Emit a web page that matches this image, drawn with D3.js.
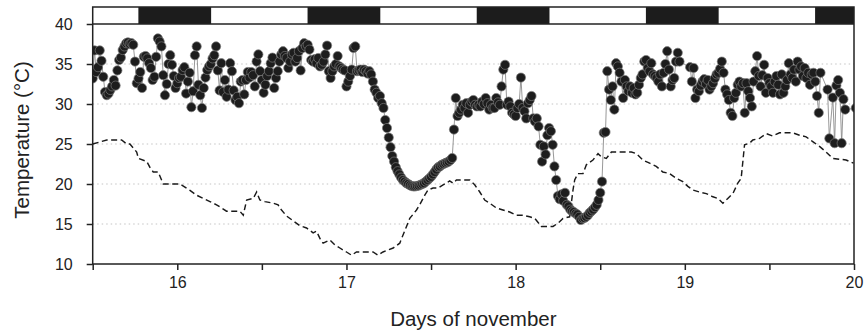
<!DOCTYPE html>
<html><head><meta charset="utf-8">
<script src="https://cdn.jsdelivr.net/npm/d3@7"></script>
<style>
html,body{margin:0;padding:0;background:#fff;}
svg{display:block;font-family:"Liberation Sans",Arial,Helvetica,sans-serif;}
</style></head><body>
<svg id="chart" width="865" height="335"></svg>
<script>
// ---- data ----
const sampleStartDay = 15.5;       // first body-temperature reading (day of November)
const sampleStepDays = 1 / 96;     // one reading every 15 minutes
const bodyTemps = [
  33.2,36.7,34.0,34.6,36.7,35.4,33.4,31.5,31.1,31.3,31.75,32.2,
  33.0,32.3,34.2,35.5,35.8,36.75,37.2,37.6,37.7,37.5,37.6,37.4,
  35.3,32.6,33.2,34.0,32.0,35.9,36.0,35.7,35.1,34.5,33.0,33.4,
  35.9,38.2,37.8,37.2,33.6,31.1,32.5,35.0,36.1,34.9,33.5,32.0,
  32.6,33.25,33.4,34.25,34.6,31.3,32.8,33.9,29.6,31.6,36.1,37.2,
  32.4,31.1,29.5,32.0,33.3,34.25,34.7,35.0,35.7,36.1,37.2,34.2,
  31.7,35.1,31.5,33.0,30.9,31.8,35.1,34.1,31.7,30.5,30.9,30.1,
  32.8,33.0,31.2,33.0,34.0,33.3,34.0,33.6,32.2,35.3,36.2,34.1,
  33.0,31.4,32.4,33.5,34.1,35.1,35.8,32.0,33.25,34.1,35.3,36.2,
  36.6,36.0,35.75,34.5,35.3,36.2,36.4,35.3,35.75,36.6,34.2,37.0,
  37.6,37.2,37.4,36.8,35.5,35.3,35.6,35.1,35.75,34.7,34.9,35.3,
  36.2,37.3,34.1,33.25,34.1,34.7,35.0,36.0,34.7,34.5,34.3,34.2,
  32.2,32.8,33.5,34.3,37.0,37.2,34.1,34.2,34.3,34.0,34.3,34.1,
  33.8,34.1,33.7,32.8,31.8,31.4,30.75,31.0,30.1,29.5,28.0,27.0,
  25.8,24.6,23.5,22.8,22.1,21.6,21.2,20.8,20.5,20.3,20.1,20.0,
  19.85,19.75,19.7,19.7,19.75,19.8,19.9,20.0,20.1,20.3,20.5,20.7,
  20.9,21.2,21.5,21.8,22.1,22.2,22.4,22.5,22.6,22.7,22.8,23.0,
  23.25,26.8,30.75,28.5,28.9,29.3,29.9,29.5,30.1,28.9,29.9,30.3,
  30.5,29.9,29.7,29.9,29.7,30.3,30.0,30.75,30.1,29.3,29.9,29.5,
  29.5,30.75,30.2,29.9,32.2,34.3,34.9,29.9,30.3,29.7,28.9,28.7,
  28.5,29.5,30.0,33.3,29.5,29.1,28.2,30.1,30.5,31.0,28.2,27.8,
  28.2,27.2,24.9,22.8,24.7,23.7,26.1,27.0,26.6,24.9,22.2,20.5,
  18.5,18.1,18.7,17.9,18.9,17.4,17.2,16.8,16.6,16.5,16.3,16.2,
  15.9,15.5,15.7,15.75,15.9,16.1,16.4,16.6,16.8,17.1,17.4,18.0,
  18.9,20.3,26.4,26.5,34.1,31.8,30.5,32.2,29.3,35.1,34.7,33.9,
  32.8,30.75,33.0,32.2,31.6,32.2,31.4,32.0,31.2,31.4,32.4,33.25,
  33.7,35.3,35.5,34.5,34.1,35.1,33.7,33.5,33.25,32.8,33.7,32.2,
  33.9,35.0,36.6,34.3,32.2,33.0,33.25,35.3,36.4,35.3,null,null,
  null,null,null,34.6,32.8,34.5,30.75,31.8,31.6,32.3,32.8,33.1,
  32.5,33.0,31.8,32.2,32.6,33.2,33.7,33.9,34.4,35.3,33.9,31.8,
  31.2,30.5,28.9,28.5,30.75,31.4,32.4,32.8,32.2,32.6,28.9,32.6,
  31.6,30.75,29.7,32.8,34.1,36.0,33.5,32.2,33.6,34.9,31.4,33.25,
  32.6,32.2,31.4,32.8,33.5,32.4,31.2,33.7,31.4,32.2,33.0,35.1,
  33.7,33.25,34.3,32.8,35.3,34.3,34.7,33.5,34.5,33.25,33.9,32.4,
  33.7,33.9,32.8,31.0,28.9,33.9,null,null,null,31.8,25.7,null,
  30.8,25.1,32.3,33.0,31.4,25.1,30.6,29.3,null,null,null,null,
  null,29.5
];

const airDays = [
  15.5,15.583,15.671,15.701,15.72,15.76,15.77,15.82,15.84,15.858,
  15.887,15.917,16.016,16.045,16.075,16.114,16.153,16.193,16.232,16.262,
  16.291,16.37,16.39,16.41,16.449,16.469,16.488,16.518,16.567,16.596,
  16.606,16.646,16.685,16.724,16.764,16.803,16.823,16.843,16.862,16.902,
  16.931,16.961,17.0,17.03,17.059,17.157,17.187,17.216,17.276,17.315,
  17.355,17.374,17.414,17.433,17.463,17.482,17.512,17.541,17.571,17.591,
  17.61,17.63,17.65,17.729,17.758,17.788,17.817,17.847,17.886,17.925,
  17.965,18.004,18.043,18.083,18.113,18.152,18.221,18.25,18.28,18.319,
  18.339,18.349,18.368,18.398,18.418,18.457,18.487,18.507,18.536,18.566,
  18.684,18.713,18.752,18.792,18.831,18.87,18.91,18.95,18.988,19.018,
  19.048,19.087,19.127,19.166,19.195,19.225,19.254,19.284,19.313,19.333,
  19.353,19.383,19.402,19.442,19.481,19.52,19.56,19.638,19.678,19.717,
  19.756,19.796,19.835,19.874,19.953,19.997
];
const airTemps = [
  25.0,25.5,25.5,25.0,25.0,24.0,23.2,22.8,22.0,21.5,
  21.5,20.0,20.0,19.6,19.2,18.6,18.2,17.8,17.4,17.0,
  16.6,16.6,16.1,18.0,18.2,19.0,18.0,17.8,17.6,17.4,
  17.0,16.0,15.4,14.8,14.5,13.9,14.1,13.2,12.6,13.0,
  12.4,12.0,11.5,11.1,11.5,11.5,11.1,11.5,12.0,12.6,
  14.7,15.7,16.75,17.4,18.6,19.25,19.5,19.5,19.9,20.1,
  20.4,20.1,20.5,20.5,19.9,19.0,18.0,17.6,17.0,16.75,
  16.5,16.1,16.1,15.9,15.7,14.7,14.7,15.1,15.7,15.9,
  19.25,20.5,21.3,21.3,22.4,23.0,23.8,23.4,23.2,24.0,
  24.0,23.8,23.0,22.6,22.2,21.5,21.3,20.7,20.3,19.7,
  19.25,19.0,18.8,18.4,18.2,17.6,18.2,18.8,20.1,20.7,
  24.9,25.1,25.5,25.7,26.3,26.0,26.4,26.4,26.1,25.9,
  25.3,24.7,24.0,23.2,23.0,22.6
];

const nightStart = [15.77, 16.77, 17.77, 18.77, 19.77];
const nightEnd   = [16.2, 17.2, 18.2, 19.2, 20.0];

const xTickValues = [15.5,16,16.5,17,17.5,18,18.5,19,19.5,20];
const xTickLabels = ["","16","","17","","18","","19","","20"];
const yTickValues = [10,15,20,25,30,35,40];
const yGridValues = [15,20,25,30,35];
const xTitle = "Days of november";
const yTitle = "Temperature (\u00B0C)";
const barTopValue = 42.125;

// ---- chart ----
const svg = d3.select("#chart");
const x = d3.scaleLinear().domain([15.5, 20]).range([92.7, 854]);
const y = d3.scaleLinear().domain([10, 40]).range([264, 24]);
const X0 = x.range()[0], X1 = x.range()[1];

svg.append("defs").append("clipPath").attr("id","plotclip")
  .append("rect").attr("x", X0).attr("y", y(40)).attr("width", X1 - X0).attr("height", y(10) - y(40));

// grid
svg.append("g").selectAll("line").data(yGridValues).join("line")
  .attr("x1", X0).attr("x2", X1).attr("y1", d => y(d)).attr("y2", d => y(d))
  .attr("stroke", "#c4c4c4").attr("stroke-width", 1).attr("stroke-dasharray", "1.5,3");

// top light/dark bar
const bar = svg.append("g");
bar.append("rect").attr("x", X0).attr("y", y(barTopValue)).attr("width", X1 - X0)
  .attr("height", y(40) - y(barTopValue)).attr("fill", "#fff");
bar.selectAll("rect.night").data(nightStart).join("rect").attr("class","night")
  .attr("x", d => x(d)).attr("y", y(barTopValue))
  .attr("width", (d, i) => x(nightEnd[i]) - x(d))
  .attr("height", y(40) - y(barTopValue)).attr("fill", "#1c1c1c");

const plot = svg.append("g").attr("clip-path", "url(#plotclip)");

// air temperature (dashed)
const airPts = airDays.map((d, i) => [d, airTemps[i]]);
plot.append("path").datum(airPts)
  .attr("fill", "none").attr("stroke", "#1a1a1a").attr("stroke-width", 1.45)
  .attr("stroke-dasharray", "6,3.5")
  .attr("d", d3.line().x(d => x(d[0])).y(d => y(d[1])));

// body temperature
const bodyPts = bodyTemps.map((v, i) => [sampleStartDay + i * sampleStepDays, v]).filter(d => d[1] !== null);
plot.append("path").datum(bodyPts)
  .attr("fill", "none").attr("stroke", "#8c8c8c").attr("stroke-width", 0.9)
  .attr("d", d3.line().x(d => x(d[0])).y(d => y(d[1])));
plot.append("g").selectAll("circle").data(bodyPts).join("circle")
  .attr("cx", d => x(d[0])).attr("cy", d => y(d[1])).attr("r", 4.6)
  .attr("fill", "#1d1d1d").attr("stroke", "#7a7a7a").attr("stroke-width", 0.7);

// frame
svg.append("rect").attr("x", X0).attr("y", y(barTopValue)).attr("width", X1 - X0)
  .attr("height", y(10) - y(barTopValue)).attr("fill", "none")
  .attr("stroke", "#222").attr("stroke-width", 1.5);
svg.append("line").attr("x1", X0).attr("x2", X1).attr("y1", y(40)).attr("y2", y(40))
  .attr("stroke", "#222").attr("stroke-width", 1.5);

// axes
const xAxis = svg.append("g").attr("transform", `translate(0,${y(10)})`)
  .call(d3.axisBottom(x).tickValues(xTickValues).tickFormat((d, i) => xTickLabels[i]).tickSize(6).tickPadding(7));
const yAxis = svg.append("g").attr("transform", `translate(${X0},0)`)
  .call(d3.axisLeft(y).tickValues(yTickValues).tickFormat(d3.format("d")).tickSize(6).tickPadding(14));
[xAxis, yAxis].forEach(g => {
  g.select(".domain").remove();
  g.selectAll(".tick line").attr("stroke", "#222").attr("stroke-width", 1.5);
  g.selectAll(".tick text").attr("fill", "#222").style("font-size", "16px")
    .style("font-family", '"Liberation Sans",Arial,sans-serif');
});

svg.append("text").attr("x", (X0 + X1) / 2).attr("y", 326).attr("text-anchor", "middle")
  .attr("fill", "#222").style("font-size", "20.5px").text(xTitle);
svg.append("text").attr("transform", `translate(29,${y(25) - 4}) rotate(-90)`).attr("text-anchor", "middle")
  .attr("fill", "#222").style("font-size", "20.5px").text(yTitle);
</script>
</body></html>
